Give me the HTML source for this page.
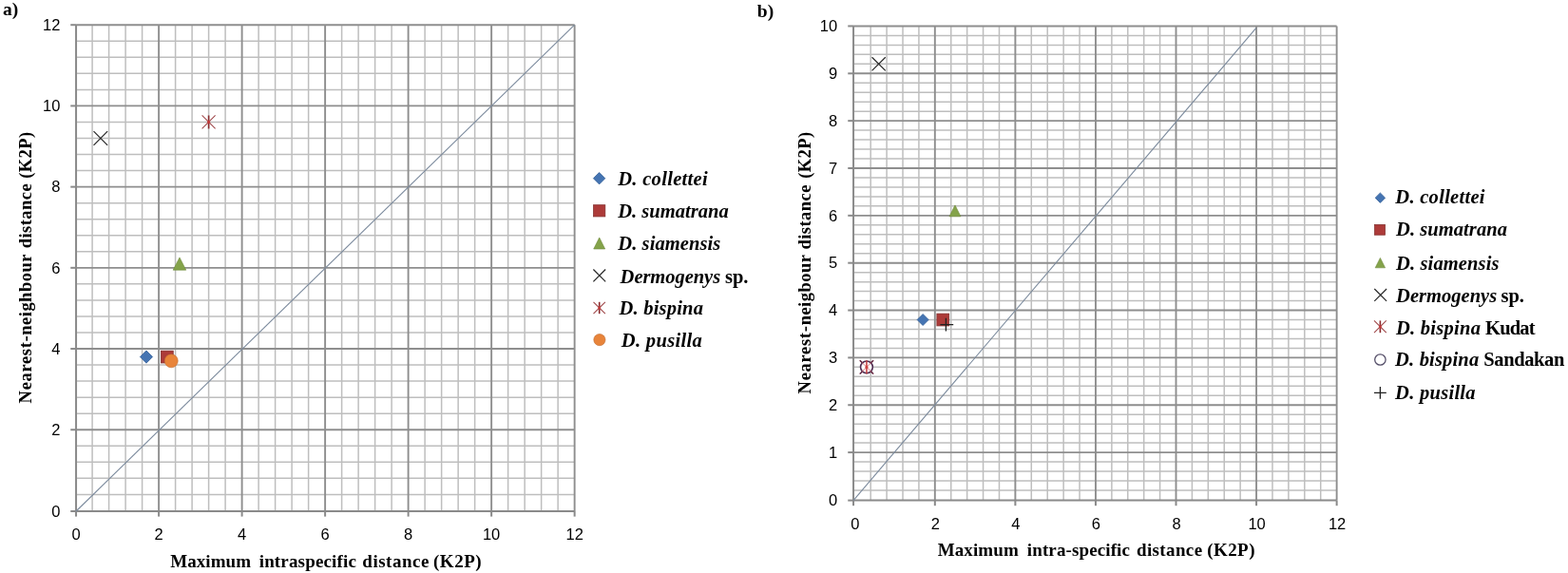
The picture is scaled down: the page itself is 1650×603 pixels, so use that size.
<!DOCTYPE html>
<html><head><meta charset="utf-8"><title>K2P distance plots</title>
<style>html,body{margin:0;padding:0;background:#fff;width:1650px;height:603px;overflow:hidden}svg{display:block}</style>
</head><body>
<svg width="1650" height="603" viewBox="0 0 1650 603">
<rect width="1650" height="603" fill="#fff"/>
<line x1="97.09" y1="538" x2="97.09" y2="26.21" stroke="#bebebe" stroke-width="1.5"/>
<line x1="114.59" y1="538" x2="114.59" y2="26.21" stroke="#bebebe" stroke-width="1.5"/>
<line x1="132.09" y1="538" x2="132.09" y2="26.21" stroke="#bebebe" stroke-width="1.5"/>
<line x1="149.6" y1="538" x2="149.6" y2="26.21" stroke="#bebebe" stroke-width="1.5"/>
<line x1="184.6" y1="538" x2="184.6" y2="26.21" stroke="#bebebe" stroke-width="1.5"/>
<line x1="202.1" y1="538" x2="202.1" y2="26.21" stroke="#bebebe" stroke-width="1.5"/>
<line x1="219.6" y1="538" x2="219.6" y2="26.21" stroke="#bebebe" stroke-width="1.5"/>
<line x1="237.1" y1="538" x2="237.1" y2="26.21" stroke="#bebebe" stroke-width="1.5"/>
<line x1="272.11" y1="538" x2="272.11" y2="26.21" stroke="#bebebe" stroke-width="1.5"/>
<line x1="289.61" y1="538" x2="289.61" y2="26.21" stroke="#bebebe" stroke-width="1.5"/>
<line x1="307.11" y1="538" x2="307.11" y2="26.21" stroke="#bebebe" stroke-width="1.5"/>
<line x1="324.61" y1="538" x2="324.61" y2="26.21" stroke="#bebebe" stroke-width="1.5"/>
<line x1="359.62" y1="538" x2="359.62" y2="26.21" stroke="#bebebe" stroke-width="1.5"/>
<line x1="377.12" y1="538" x2="377.12" y2="26.21" stroke="#bebebe" stroke-width="1.5"/>
<line x1="394.62" y1="538" x2="394.62" y2="26.21" stroke="#bebebe" stroke-width="1.5"/>
<line x1="412.12" y1="538" x2="412.12" y2="26.21" stroke="#bebebe" stroke-width="1.5"/>
<line x1="447.12" y1="538" x2="447.12" y2="26.21" stroke="#bebebe" stroke-width="1.5"/>
<line x1="464.63" y1="538" x2="464.63" y2="26.21" stroke="#bebebe" stroke-width="1.5"/>
<line x1="482.13" y1="538" x2="482.13" y2="26.21" stroke="#bebebe" stroke-width="1.5"/>
<line x1="499.63" y1="538" x2="499.63" y2="26.21" stroke="#bebebe" stroke-width="1.5"/>
<line x1="534.63" y1="538" x2="534.63" y2="26.21" stroke="#bebebe" stroke-width="1.5"/>
<line x1="552.13" y1="538" x2="552.13" y2="26.21" stroke="#bebebe" stroke-width="1.5"/>
<line x1="569.63" y1="538" x2="569.63" y2="26.21" stroke="#bebebe" stroke-width="1.5"/>
<line x1="587.14" y1="538" x2="587.14" y2="26.21" stroke="#bebebe" stroke-width="1.5"/>
<line x1="80.05" y1="520.41" x2="604.64" y2="520.41" stroke="#bebebe" stroke-width="1.5"/>
<line x1="80.05" y1="503.37" x2="604.64" y2="503.37" stroke="#bebebe" stroke-width="1.5"/>
<line x1="80.05" y1="486.33" x2="604.64" y2="486.33" stroke="#bebebe" stroke-width="1.5"/>
<line x1="80.05" y1="469.29" x2="604.64" y2="469.29" stroke="#bebebe" stroke-width="1.5"/>
<line x1="80.05" y1="435.2" x2="604.64" y2="435.2" stroke="#bebebe" stroke-width="1.5"/>
<line x1="80.05" y1="418.16" x2="604.64" y2="418.16" stroke="#bebebe" stroke-width="1.5"/>
<line x1="80.05" y1="401.12" x2="604.64" y2="401.12" stroke="#bebebe" stroke-width="1.5"/>
<line x1="80.05" y1="384.08" x2="604.64" y2="384.08" stroke="#bebebe" stroke-width="1.5"/>
<line x1="80.05" y1="350" x2="604.64" y2="350" stroke="#bebebe" stroke-width="1.5"/>
<line x1="80.05" y1="332.96" x2="604.64" y2="332.96" stroke="#bebebe" stroke-width="1.5"/>
<line x1="80.05" y1="315.91" x2="604.64" y2="315.91" stroke="#bebebe" stroke-width="1.5"/>
<line x1="80.05" y1="298.87" x2="604.64" y2="298.87" stroke="#bebebe" stroke-width="1.5"/>
<line x1="80.05" y1="264.79" x2="604.64" y2="264.79" stroke="#bebebe" stroke-width="1.5"/>
<line x1="80.05" y1="247.75" x2="604.64" y2="247.75" stroke="#bebebe" stroke-width="1.5"/>
<line x1="80.05" y1="230.71" x2="604.64" y2="230.71" stroke="#bebebe" stroke-width="1.5"/>
<line x1="80.05" y1="213.67" x2="604.64" y2="213.67" stroke="#bebebe" stroke-width="1.5"/>
<line x1="80.05" y1="179.58" x2="604.64" y2="179.58" stroke="#bebebe" stroke-width="1.5"/>
<line x1="80.05" y1="162.54" x2="604.64" y2="162.54" stroke="#bebebe" stroke-width="1.5"/>
<line x1="80.05" y1="145.5" x2="604.64" y2="145.5" stroke="#bebebe" stroke-width="1.5"/>
<line x1="80.05" y1="128.46" x2="604.64" y2="128.46" stroke="#bebebe" stroke-width="1.5"/>
<line x1="80.05" y1="94.38" x2="604.64" y2="94.38" stroke="#bebebe" stroke-width="1.5"/>
<line x1="80.05" y1="77.34" x2="604.64" y2="77.34" stroke="#bebebe" stroke-width="1.5"/>
<line x1="80.05" y1="60.3" x2="604.64" y2="60.3" stroke="#bebebe" stroke-width="1.5"/>
<line x1="80.05" y1="43.26" x2="604.64" y2="43.26" stroke="#bebebe" stroke-width="1.5"/>
<line x1="167.1" y1="538" x2="167.1" y2="26.21" stroke="#8e8e8e" stroke-width="1.9"/>
<line x1="254.61" y1="538" x2="254.61" y2="26.21" stroke="#8e8e8e" stroke-width="1.9"/>
<line x1="342.11" y1="538" x2="342.11" y2="26.21" stroke="#8e8e8e" stroke-width="1.9"/>
<line x1="429.62" y1="538" x2="429.62" y2="26.21" stroke="#8e8e8e" stroke-width="1.9"/>
<line x1="517.13" y1="538" x2="517.13" y2="26.21" stroke="#8e8e8e" stroke-width="1.9"/>
<line x1="604.64" y1="538" x2="604.64" y2="26.21" stroke="#8e8e8e" stroke-width="1.9"/>
<line x1="80.05" y1="452.24" x2="604.64" y2="452.24" stroke="#8e8e8e" stroke-width="1.9"/>
<line x1="80.05" y1="367.04" x2="604.64" y2="367.04" stroke="#8e8e8e" stroke-width="1.9"/>
<line x1="80.05" y1="281.83" x2="604.64" y2="281.83" stroke="#8e8e8e" stroke-width="1.9"/>
<line x1="80.05" y1="196.63" x2="604.64" y2="196.63" stroke="#8e8e8e" stroke-width="1.9"/>
<line x1="80.05" y1="111.42" x2="604.64" y2="111.42" stroke="#8e8e8e" stroke-width="1.9"/>
<line x1="80.05" y1="26.21" x2="604.64" y2="26.21" stroke="#8e8e8e" stroke-width="1.9"/>
<line x1="80.05" y1="538" x2="80.05" y2="26.21" stroke="#8a8a8a" stroke-width="2.0"/>
<line x1="80.05" y1="538" x2="604.64" y2="538" stroke="#8a8a8a" stroke-width="2.0"/>
<line x1="80.05" y1="538" x2="80.05" y2="543.6" stroke="#8a8a8a" stroke-width="2.0"/>
<line x1="167.1" y1="538" x2="167.1" y2="543.6" stroke="#8a8a8a" stroke-width="2.0"/>
<line x1="254.61" y1="538" x2="254.61" y2="543.6" stroke="#8a8a8a" stroke-width="2.0"/>
<line x1="342.11" y1="538" x2="342.11" y2="543.6" stroke="#8a8a8a" stroke-width="2.0"/>
<line x1="429.62" y1="538" x2="429.62" y2="543.6" stroke="#8a8a8a" stroke-width="2.0"/>
<line x1="517.13" y1="538" x2="517.13" y2="543.6" stroke="#8a8a8a" stroke-width="2.0"/>
<line x1="604.64" y1="538" x2="604.64" y2="543.6" stroke="#8a8a8a" stroke-width="2.0"/>
<line x1="74.25" y1="538" x2="80.05" y2="538" stroke="#8a8a8a" stroke-width="2.0"/>
<line x1="74.25" y1="452.24" x2="80.05" y2="452.24" stroke="#8a8a8a" stroke-width="2.0"/>
<line x1="74.25" y1="367.04" x2="80.05" y2="367.04" stroke="#8a8a8a" stroke-width="2.0"/>
<line x1="74.25" y1="281.83" x2="80.05" y2="281.83" stroke="#8a8a8a" stroke-width="2.0"/>
<line x1="74.25" y1="196.63" x2="80.05" y2="196.63" stroke="#8a8a8a" stroke-width="2.0"/>
<line x1="74.25" y1="111.42" x2="80.05" y2="111.42" stroke="#8a8a8a" stroke-width="2.0"/>
<line x1="74.25" y1="26.21" x2="80.05" y2="26.21" stroke="#8a8a8a" stroke-width="2.0"/>
<line x1="80.05" y1="538" x2="604.64" y2="26.21" stroke="#7a899c" stroke-width="1.1"/>
<text x="63.4" y="543.7" text-anchor="end" font-family="Liberation Sans, sans-serif" font-size="16.5" fill="#000">0</text>
<text x="80.2" y="568.3" text-anchor="middle" font-family="Liberation Sans, sans-serif" font-size="16.5" fill="#000">0</text>
<text x="63.4" y="457.94" text-anchor="end" font-family="Liberation Sans, sans-serif" font-size="16.5" fill="#000">2</text>
<text x="167.1" y="568.3" text-anchor="middle" font-family="Liberation Sans, sans-serif" font-size="16.5" fill="#000">2</text>
<text x="63.4" y="372.74" text-anchor="end" font-family="Liberation Sans, sans-serif" font-size="16.5" fill="#000">4</text>
<text x="254.61" y="568.3" text-anchor="middle" font-family="Liberation Sans, sans-serif" font-size="16.5" fill="#000">4</text>
<text x="63.4" y="287.53" text-anchor="end" font-family="Liberation Sans, sans-serif" font-size="16.5" fill="#000">6</text>
<text x="342.11" y="568.3" text-anchor="middle" font-family="Liberation Sans, sans-serif" font-size="16.5" fill="#000">6</text>
<text x="63.4" y="202.33" text-anchor="end" font-family="Liberation Sans, sans-serif" font-size="16.5" fill="#000">8</text>
<text x="429.62" y="568.3" text-anchor="middle" font-family="Liberation Sans, sans-serif" font-size="16.5" fill="#000">8</text>
<text x="63.4" y="117.12" text-anchor="end" font-family="Liberation Sans, sans-serif" font-size="16.5" fill="#000">10</text>
<text x="517.13" y="568.3" text-anchor="middle" font-family="Liberation Sans, sans-serif" font-size="16.5" fill="#000">10</text>
<text x="63.4" y="31.91" text-anchor="end" font-family="Liberation Sans, sans-serif" font-size="16.5" fill="#000">12</text>
<text x="604.64" y="568.3" text-anchor="middle" font-family="Liberation Sans, sans-serif" font-size="16.5" fill="#000">12</text>
<polygon points="153.97,368.96 160.57,375.56 153.97,382.16 147.37,375.56" fill="#4574b2" stroke="#345f98" stroke-width="0.8"/>
<rect x="169.45" y="369.16" width="12.8" height="12.8" fill="#ad3b39" stroke="#84302e" stroke-width="0.8"/>
<polygon points="188.97,270.97 195.78,284.17 182.17,284.17" fill="#84a34a" stroke="#6e8a3c" stroke-width="0.6"/>
<path d="M98.54 138.2L113.14 152.8M113.14 138.2L98.54 152.8" stroke="#262626" stroke-width="1.2" fill="none"/>
<path d="M212.6 121.46L226.6 135.46M226.6 121.46L212.6 135.46" stroke="#a04a4c" stroke-width="1.1" fill="none"/><path d="M219.6 121.46L219.6 135.46" stroke="#8a2a2c" stroke-width="1.6" fill="none"/><circle cx="219.6" cy="128.46" r="1.6" fill="#d03c3c" opacity="0.8"/>
<circle cx="180.22" cy="379.82" r="7" fill="#e8843a" stroke="#bf6c30" stroke-width="0.6"/>
<line x1="916.18" y1="526.6" x2="916.18" y2="27.45" stroke="#bebebe" stroke-width="1.5"/>
<line x1="933.09" y1="526.6" x2="933.09" y2="27.45" stroke="#bebebe" stroke-width="1.5"/>
<line x1="950.01" y1="526.6" x2="950.01" y2="27.45" stroke="#bebebe" stroke-width="1.5"/>
<line x1="966.92" y1="526.6" x2="966.92" y2="27.45" stroke="#bebebe" stroke-width="1.5"/>
<line x1="1000.74" y1="526.6" x2="1000.74" y2="27.45" stroke="#bebebe" stroke-width="1.5"/>
<line x1="1017.65" y1="526.6" x2="1017.65" y2="27.45" stroke="#bebebe" stroke-width="1.5"/>
<line x1="1034.57" y1="526.6" x2="1034.57" y2="27.45" stroke="#bebebe" stroke-width="1.5"/>
<line x1="1051.48" y1="526.6" x2="1051.48" y2="27.45" stroke="#bebebe" stroke-width="1.5"/>
<line x1="1085.3" y1="526.6" x2="1085.3" y2="27.45" stroke="#bebebe" stroke-width="1.5"/>
<line x1="1102.21" y1="526.6" x2="1102.21" y2="27.45" stroke="#bebebe" stroke-width="1.5"/>
<line x1="1119.13" y1="526.6" x2="1119.13" y2="27.45" stroke="#bebebe" stroke-width="1.5"/>
<line x1="1136.04" y1="526.6" x2="1136.04" y2="27.45" stroke="#bebebe" stroke-width="1.5"/>
<line x1="1169.86" y1="526.6" x2="1169.86" y2="27.45" stroke="#bebebe" stroke-width="1.5"/>
<line x1="1186.77" y1="526.6" x2="1186.77" y2="27.45" stroke="#bebebe" stroke-width="1.5"/>
<line x1="1203.69" y1="526.6" x2="1203.69" y2="27.45" stroke="#bebebe" stroke-width="1.5"/>
<line x1="1220.6" y1="526.6" x2="1220.6" y2="27.45" stroke="#bebebe" stroke-width="1.5"/>
<line x1="1254.42" y1="526.6" x2="1254.42" y2="27.45" stroke="#bebebe" stroke-width="1.5"/>
<line x1="1271.33" y1="526.6" x2="1271.33" y2="27.45" stroke="#bebebe" stroke-width="1.5"/>
<line x1="1288.25" y1="526.6" x2="1288.25" y2="27.45" stroke="#bebebe" stroke-width="1.5"/>
<line x1="1305.16" y1="526.6" x2="1305.16" y2="27.45" stroke="#bebebe" stroke-width="1.5"/>
<line x1="1338.98" y1="526.6" x2="1338.98" y2="27.45" stroke="#bebebe" stroke-width="1.5"/>
<line x1="1355.89" y1="526.6" x2="1355.89" y2="27.45" stroke="#bebebe" stroke-width="1.5"/>
<line x1="1372.81" y1="526.6" x2="1372.81" y2="27.45" stroke="#bebebe" stroke-width="1.5"/>
<line x1="1389.72" y1="526.6" x2="1389.72" y2="27.45" stroke="#bebebe" stroke-width="1.5"/>
<line x1="898.05" y1="515.96" x2="1406.63" y2="515.96" stroke="#bebebe" stroke-width="1.5"/>
<line x1="898.05" y1="505.99" x2="1406.63" y2="505.99" stroke="#bebebe" stroke-width="1.5"/>
<line x1="898.05" y1="496.02" x2="1406.63" y2="496.02" stroke="#bebebe" stroke-width="1.5"/>
<line x1="898.05" y1="486.05" x2="1406.63" y2="486.05" stroke="#bebebe" stroke-width="1.5"/>
<line x1="898.05" y1="466.11" x2="1406.63" y2="466.11" stroke="#bebebe" stroke-width="1.5"/>
<line x1="898.05" y1="456.14" x2="1406.63" y2="456.14" stroke="#bebebe" stroke-width="1.5"/>
<line x1="898.05" y1="446.17" x2="1406.63" y2="446.17" stroke="#bebebe" stroke-width="1.5"/>
<line x1="898.05" y1="436.2" x2="1406.63" y2="436.2" stroke="#bebebe" stroke-width="1.5"/>
<line x1="898.05" y1="416.26" x2="1406.63" y2="416.26" stroke="#bebebe" stroke-width="1.5"/>
<line x1="898.05" y1="406.29" x2="1406.63" y2="406.29" stroke="#bebebe" stroke-width="1.5"/>
<line x1="898.05" y1="396.33" x2="1406.63" y2="396.33" stroke="#bebebe" stroke-width="1.5"/>
<line x1="898.05" y1="386.36" x2="1406.63" y2="386.36" stroke="#bebebe" stroke-width="1.5"/>
<line x1="898.05" y1="366.42" x2="1406.63" y2="366.42" stroke="#bebebe" stroke-width="1.5"/>
<line x1="898.05" y1="356.45" x2="1406.63" y2="356.45" stroke="#bebebe" stroke-width="1.5"/>
<line x1="898.05" y1="346.48" x2="1406.63" y2="346.48" stroke="#bebebe" stroke-width="1.5"/>
<line x1="898.05" y1="336.51" x2="1406.63" y2="336.51" stroke="#bebebe" stroke-width="1.5"/>
<line x1="898.05" y1="316.57" x2="1406.63" y2="316.57" stroke="#bebebe" stroke-width="1.5"/>
<line x1="898.05" y1="306.6" x2="1406.63" y2="306.6" stroke="#bebebe" stroke-width="1.5"/>
<line x1="898.05" y1="296.63" x2="1406.63" y2="296.63" stroke="#bebebe" stroke-width="1.5"/>
<line x1="898.05" y1="286.66" x2="1406.63" y2="286.66" stroke="#bebebe" stroke-width="1.5"/>
<line x1="898.05" y1="266.72" x2="1406.63" y2="266.72" stroke="#bebebe" stroke-width="1.5"/>
<line x1="898.05" y1="256.75" x2="1406.63" y2="256.75" stroke="#bebebe" stroke-width="1.5"/>
<line x1="898.05" y1="246.78" x2="1406.63" y2="246.78" stroke="#bebebe" stroke-width="1.5"/>
<line x1="898.05" y1="236.81" x2="1406.63" y2="236.81" stroke="#bebebe" stroke-width="1.5"/>
<line x1="898.05" y1="216.87" x2="1406.63" y2="216.87" stroke="#bebebe" stroke-width="1.5"/>
<line x1="898.05" y1="206.9" x2="1406.63" y2="206.9" stroke="#bebebe" stroke-width="1.5"/>
<line x1="898.05" y1="196.93" x2="1406.63" y2="196.93" stroke="#bebebe" stroke-width="1.5"/>
<line x1="898.05" y1="186.96" x2="1406.63" y2="186.96" stroke="#bebebe" stroke-width="1.5"/>
<line x1="898.05" y1="167.02" x2="1406.63" y2="167.02" stroke="#bebebe" stroke-width="1.5"/>
<line x1="898.05" y1="157.05" x2="1406.63" y2="157.05" stroke="#bebebe" stroke-width="1.5"/>
<line x1="898.05" y1="147.09" x2="1406.63" y2="147.09" stroke="#bebebe" stroke-width="1.5"/>
<line x1="898.05" y1="137.12" x2="1406.63" y2="137.12" stroke="#bebebe" stroke-width="1.5"/>
<line x1="898.05" y1="117.18" x2="1406.63" y2="117.18" stroke="#bebebe" stroke-width="1.5"/>
<line x1="898.05" y1="107.21" x2="1406.63" y2="107.21" stroke="#bebebe" stroke-width="1.5"/>
<line x1="898.05" y1="97.24" x2="1406.63" y2="97.24" stroke="#bebebe" stroke-width="1.5"/>
<line x1="898.05" y1="87.27" x2="1406.63" y2="87.27" stroke="#bebebe" stroke-width="1.5"/>
<line x1="898.05" y1="67.33" x2="1406.63" y2="67.33" stroke="#bebebe" stroke-width="1.5"/>
<line x1="898.05" y1="57.36" x2="1406.63" y2="57.36" stroke="#bebebe" stroke-width="1.5"/>
<line x1="898.05" y1="47.39" x2="1406.63" y2="47.39" stroke="#bebebe" stroke-width="1.5"/>
<line x1="898.05" y1="37.42" x2="1406.63" y2="37.42" stroke="#bebebe" stroke-width="1.5"/>
<line x1="983.83" y1="526.6" x2="983.83" y2="27.45" stroke="#8e8e8e" stroke-width="1.9"/>
<line x1="1068.39" y1="526.6" x2="1068.39" y2="27.45" stroke="#8e8e8e" stroke-width="1.9"/>
<line x1="1152.95" y1="526.6" x2="1152.95" y2="27.45" stroke="#8e8e8e" stroke-width="1.9"/>
<line x1="1237.51" y1="526.6" x2="1237.51" y2="27.45" stroke="#8e8e8e" stroke-width="1.9"/>
<line x1="1322.07" y1="526.6" x2="1322.07" y2="27.45" stroke="#8e8e8e" stroke-width="1.9"/>
<line x1="1406.63" y1="526.6" x2="1406.63" y2="27.45" stroke="#8e8e8e" stroke-width="1.9"/>
<line x1="898.05" y1="476.08" x2="1406.63" y2="476.08" stroke="#8e8e8e" stroke-width="1.9"/>
<line x1="898.05" y1="426.23" x2="1406.63" y2="426.23" stroke="#8e8e8e" stroke-width="1.9"/>
<line x1="898.05" y1="376.39" x2="1406.63" y2="376.39" stroke="#8e8e8e" stroke-width="1.9"/>
<line x1="898.05" y1="326.54" x2="1406.63" y2="326.54" stroke="#8e8e8e" stroke-width="1.9"/>
<line x1="898.05" y1="276.69" x2="1406.63" y2="276.69" stroke="#8e8e8e" stroke-width="1.9"/>
<line x1="898.05" y1="226.84" x2="1406.63" y2="226.84" stroke="#8e8e8e" stroke-width="1.9"/>
<line x1="898.05" y1="176.99" x2="1406.63" y2="176.99" stroke="#8e8e8e" stroke-width="1.9"/>
<line x1="898.05" y1="127.15" x2="1406.63" y2="127.15" stroke="#8e8e8e" stroke-width="1.9"/>
<line x1="898.05" y1="77.3" x2="1406.63" y2="77.3" stroke="#8e8e8e" stroke-width="1.9"/>
<line x1="898.05" y1="27.45" x2="1406.63" y2="27.45" stroke="#8e8e8e" stroke-width="1.9"/>
<line x1="898.05" y1="526.6" x2="898.05" y2="27.45" stroke="#8a8a8a" stroke-width="2.0"/>
<line x1="898.05" y1="526.6" x2="1406.63" y2="526.6" stroke="#8a8a8a" stroke-width="2.0"/>
<line x1="898.05" y1="526.6" x2="898.05" y2="532.2" stroke="#8a8a8a" stroke-width="2.0"/>
<line x1="983.83" y1="526.6" x2="983.83" y2="532.2" stroke="#8a8a8a" stroke-width="2.0"/>
<line x1="1068.39" y1="526.6" x2="1068.39" y2="532.2" stroke="#8a8a8a" stroke-width="2.0"/>
<line x1="1152.95" y1="526.6" x2="1152.95" y2="532.2" stroke="#8a8a8a" stroke-width="2.0"/>
<line x1="1237.51" y1="526.6" x2="1237.51" y2="532.2" stroke="#8a8a8a" stroke-width="2.0"/>
<line x1="1322.07" y1="526.6" x2="1322.07" y2="532.2" stroke="#8a8a8a" stroke-width="2.0"/>
<line x1="1406.63" y1="526.6" x2="1406.63" y2="532.2" stroke="#8a8a8a" stroke-width="2.0"/>
<line x1="892.25" y1="526.6" x2="898.05" y2="526.6" stroke="#8a8a8a" stroke-width="2.0"/>
<line x1="892.25" y1="476.08" x2="898.05" y2="476.08" stroke="#8a8a8a" stroke-width="2.0"/>
<line x1="892.25" y1="426.23" x2="898.05" y2="426.23" stroke="#8a8a8a" stroke-width="2.0"/>
<line x1="892.25" y1="376.39" x2="898.05" y2="376.39" stroke="#8a8a8a" stroke-width="2.0"/>
<line x1="892.25" y1="326.54" x2="898.05" y2="326.54" stroke="#8a8a8a" stroke-width="2.0"/>
<line x1="892.25" y1="276.69" x2="898.05" y2="276.69" stroke="#8a8a8a" stroke-width="2.0"/>
<line x1="892.25" y1="226.84" x2="898.05" y2="226.84" stroke="#8a8a8a" stroke-width="2.0"/>
<line x1="892.25" y1="176.99" x2="898.05" y2="176.99" stroke="#8a8a8a" stroke-width="2.0"/>
<line x1="892.25" y1="127.15" x2="898.05" y2="127.15" stroke="#8a8a8a" stroke-width="2.0"/>
<line x1="892.25" y1="77.3" x2="898.05" y2="77.3" stroke="#8a8a8a" stroke-width="2.0"/>
<line x1="892.25" y1="27.45" x2="898.05" y2="27.45" stroke="#8a8a8a" stroke-width="2.0"/>
<line x1="898.05" y1="526.6" x2="1321.87" y2="29.45" stroke="#7a899c" stroke-width="1.1"/>
<text x="881.2" y="532.3" text-anchor="end" font-family="Liberation Sans, sans-serif" font-size="16.5" fill="#000">0</text>
<text x="881.2" y="481.78" text-anchor="end" font-family="Liberation Sans, sans-serif" font-size="16.5" fill="#000">1</text>
<text x="881.2" y="431.93" text-anchor="end" font-family="Liberation Sans, sans-serif" font-size="16.5" fill="#000">2</text>
<text x="881.2" y="382.09" text-anchor="end" font-family="Liberation Sans, sans-serif" font-size="16.5" fill="#000">3</text>
<text x="881.2" y="332.24" text-anchor="end" font-family="Liberation Sans, sans-serif" font-size="16.5" fill="#000">4</text>
<text x="881.2" y="282.39" text-anchor="end" font-family="Liberation Sans, sans-serif" font-size="16.5" fill="#000">5</text>
<text x="881.2" y="232.54" text-anchor="end" font-family="Liberation Sans, sans-serif" font-size="16.5" fill="#000">6</text>
<text x="881.2" y="182.69" text-anchor="end" font-family="Liberation Sans, sans-serif" font-size="16.5" fill="#000">7</text>
<text x="881.2" y="132.85" text-anchor="end" font-family="Liberation Sans, sans-serif" font-size="16.5" fill="#000">8</text>
<text x="881.2" y="83" text-anchor="end" font-family="Liberation Sans, sans-serif" font-size="16.5" fill="#000">9</text>
<text x="881.2" y="33.15" text-anchor="end" font-family="Liberation Sans, sans-serif" font-size="16.5" fill="#000">10</text>
<text x="899.77" y="556.8" text-anchor="middle" font-family="Liberation Sans, sans-serif" font-size="16.5" fill="#000">0</text>
<text x="984.33" y="556.8" text-anchor="middle" font-family="Liberation Sans, sans-serif" font-size="16.5" fill="#000">2</text>
<text x="1068.89" y="556.8" text-anchor="middle" font-family="Liberation Sans, sans-serif" font-size="16.5" fill="#000">4</text>
<text x="1153.45" y="556.8" text-anchor="middle" font-family="Liberation Sans, sans-serif" font-size="16.5" fill="#000">6</text>
<text x="1238.01" y="556.8" text-anchor="middle" font-family="Liberation Sans, sans-serif" font-size="16.5" fill="#000">8</text>
<text x="1322.57" y="556.8" text-anchor="middle" font-family="Liberation Sans, sans-serif" font-size="16.5" fill="#000">10</text>
<text x="1407.13" y="556.8" text-anchor="middle" font-family="Liberation Sans, sans-serif" font-size="16.5" fill="#000">12</text>
<polygon points="971.15,330.51 977.15,336.51 971.15,342.51 965.15,336.51" fill="#4574b2" stroke="#345f98" stroke-width="0.8"/>
<rect x="985.89" y="330.11" width="12.8" height="12.8" fill="#ad3b39" stroke="#84302e" stroke-width="0.8"/>
<polygon points="1004.97,215.86 1010.97,227.86 998.97,227.86" fill="#84a34a" stroke="#6e8a3c" stroke-width="0.6"/>
<path d="M917.54 60.23L931.74 74.43M931.74 60.23L917.54 74.43" stroke="#262626" stroke-width="1.2" fill="none"/>
<circle cx="911.95" cy="386.36" r="6.4" fill="#fff" stroke="#4e2c50" stroke-width="1.6"/>
<path d="M904.85 379.26L919.05 393.46M919.05 379.26L904.85 393.46" stroke="#d9737b" stroke-width="1.0" fill="none"/><path d="M911.95 379.26L911.95 393.46" stroke="#c23a3c" stroke-width="1.5" fill="none"/><circle cx="911.95" cy="386.36" r="1.6" fill="#d03c3c" opacity="0.8"/>
<path d="M907.35 381.76L904.85 379.26" stroke="#5e2640" stroke-width="1.5"/>
<path d="M916.55 381.76L919.05 379.26" stroke="#5e2640" stroke-width="1.5"/>
<path d="M907.35 390.96L904.85 393.46" stroke="#5e2640" stroke-width="1.5"/>
<path d="M916.55 390.96L919.05 393.46" stroke="#5e2640" stroke-width="1.5"/>
<path d="M989.41 341.69L1003.21 341.69M995.41 334.79L995.41 348.59" stroke="#222222" stroke-width="1.35" fill="none"/>
<text x="179.15" y="596.6" font-family="Liberation Serif, serif" font-weight="bold" font-size="19" fill="#000" textLength="84.96" lengthAdjust="spacing">Maximum</text>
<text x="272.69" y="596.6" font-family="Liberation Serif, serif" font-weight="bold" font-size="19" fill="#000" textLength="102.19" lengthAdjust="spacing">intraspecific</text>
<text x="381.32" y="596.6" font-family="Liberation Serif, serif" font-weight="bold" font-size="19" fill="#000" textLength="70.05" lengthAdjust="spacing">distance</text>
<text x="455.99" y="596.6" font-family="Liberation Serif, serif" font-weight="bold" font-size="19" fill="#000" textLength="50.69" lengthAdjust="spacing">(K2P)</text>
<text x="986.75" y="584.9" font-family="Liberation Serif, serif" font-weight="bold" font-size="19" fill="#000" textLength="84.96" lengthAdjust="spacing">Maximum</text>
<text x="1080.79" y="584.9" font-family="Liberation Serif, serif" font-weight="bold" font-size="19" fill="#000" textLength="108.17" lengthAdjust="spacing">intra-specific</text>
<text x="1196.03" y="584.9" font-family="Liberation Serif, serif" font-weight="bold" font-size="19" fill="#000" textLength="69.05" lengthAdjust="spacing">distance</text>
<text x="1270.19" y="584.9" font-family="Liberation Serif, serif" font-weight="bold" font-size="19" fill="#000" textLength="50.27" lengthAdjust="spacing">(K2P)</text>
<text transform="translate(33.2 424.4) rotate(-90)" font-family="Liberation Serif, serif" font-weight="bold" font-size="18.5" fill="#000" textLength="71.11" lengthAdjust="spacing">Nearest-</text>
<text transform="translate(33.2 352.67) rotate(-90)" font-family="Liberation Serif, serif" font-weight="bold" font-size="18.5" fill="#000" textLength="85.04" lengthAdjust="spacing">neighbour</text>
<text transform="translate(33.2 261.26) rotate(-90)" font-family="Liberation Serif, serif" font-weight="bold" font-size="18.5" fill="#000" textLength="67.91" lengthAdjust="spacing">distance</text>
<text transform="translate(33.2 187.8) rotate(-90)" font-family="Liberation Serif, serif" font-weight="bold" font-size="18.5" fill="#000" textLength="48.94" lengthAdjust="spacing">(K2P)</text>
<text transform="translate(852.5 414.4) rotate(-90)" font-family="Liberation Serif, serif" font-weight="bold" font-size="18.5" fill="#000" textLength="71.31" lengthAdjust="spacing">Nearest-</text>
<text transform="translate(852.5 342.37) rotate(-90)" font-family="Liberation Serif, serif" font-weight="bold" font-size="18.5" fill="#000" textLength="74.36" lengthAdjust="spacing">neigbour</text>
<text transform="translate(852.5 262.56) rotate(-90)" font-family="Liberation Serif, serif" font-weight="bold" font-size="18.5" fill="#000" textLength="68.06" lengthAdjust="spacing">distance</text>
<text transform="translate(852.5 187.8) rotate(-90)" font-family="Liberation Serif, serif" font-weight="bold" font-size="18.5" fill="#000" textLength="48.94" lengthAdjust="spacing">(K2P)</text>
<text x="3" y="15.7" font-family="Liberation Serif, serif" font-weight="bold" font-size="19.5" fill="#000">a)</text>
<text x="796.8" y="17.7" font-family="Liberation Serif, serif" font-weight="bold" font-size="19.5" fill="#000">b)</text>
<text x="650.22" y="194.7" font-family="Liberation Serif, serif" font-weight="bold" font-style="italic" font-size="20.5" fill="#000" textLength="94.45" lengthAdjust="spacing">D. collettei</text>
<text x="650.22" y="229" font-family="Liberation Serif, serif" font-weight="bold" font-style="italic" font-size="20.5" fill="#000" textLength="116.46" lengthAdjust="spacing">D. sumatrana</text>
<text x="650.32" y="262.9" font-family="Liberation Serif, serif" font-weight="bold" font-style="italic" font-size="20.5" fill="#000" textLength="108" lengthAdjust="spacing">D. siamensis</text>
<text x="652.62" y="297.7" font-family="Liberation Serif, serif" font-weight="bold" font-style="italic" font-size="20.5" fill="#000" textLength="105.49" lengthAdjust="spacing">Dermogenys</text>
<text x="763.08" y="297.7" font-family="Liberation Serif, serif" font-weight="bold" font-size="20.5" fill="#000" textLength="24.18" lengthAdjust="spacing">sp.</text>
<text x="651.52" y="330.8" font-family="Liberation Serif, serif" font-weight="bold" font-style="italic" font-size="20.5" fill="#000" textLength="88.45" lengthAdjust="spacing">D. bispina</text>
<text x="653.82" y="365.3" font-family="Liberation Serif, serif" font-weight="bold" font-style="italic" font-size="20.5" fill="#000" textLength="84.96" lengthAdjust="spacing">D. pusilla</text>
<text x="1468.32" y="214" font-family="Liberation Serif, serif" font-weight="bold" font-style="italic" font-size="20.5" fill="#000" textLength="94.24" lengthAdjust="spacing">D. collettei</text>
<text x="1469.12" y="248.4" font-family="Liberation Serif, serif" font-weight="bold" font-style="italic" font-size="20.5" fill="#000" textLength="116.78" lengthAdjust="spacing">D. sumatrana</text>
<text x="1469.12" y="283.8" font-family="Liberation Serif, serif" font-weight="bold" font-style="italic" font-size="20.5" fill="#000" textLength="108.35" lengthAdjust="spacing">D. siamensis</text>
<text x="1469.12" y="317.8" font-family="Liberation Serif, serif" font-weight="bold" font-style="italic" font-size="20.5" fill="#000" textLength="106.05" lengthAdjust="spacing">Dermogenys</text>
<text x="1579.58" y="317.8" font-family="Liberation Serif, serif" font-weight="bold" font-size="20.5" fill="#000" textLength="24.29" lengthAdjust="spacing">sp.</text>
<text x="1468.92" y="351.6" font-family="Liberation Serif, serif" font-weight="bold" font-style="italic" font-size="20.5" fill="#000" textLength="89.05" lengthAdjust="spacing">D. bispina</text>
<text x="1563.01" y="351.6" font-family="Liberation Serif, serif" font-weight="bold" font-size="20.5" fill="#000" textLength="52.58" lengthAdjust="spacing">Kudat</text>
<text x="1468.12" y="384.7" font-family="Liberation Serif, serif" font-weight="bold" font-style="italic" font-size="20.5" fill="#000" textLength="88.05" lengthAdjust="spacing">D. bispina</text>
<text x="1561.24" y="384.7" font-family="Liberation Serif, serif" font-weight="bold" font-size="20.5" fill="#000" textLength="85.1" lengthAdjust="spacing">Sandakan</text>
<text x="1468.12" y="419.6" font-family="Liberation Serif, serif" font-weight="bold" font-style="italic" font-size="20.5" fill="#000" textLength="84.46" lengthAdjust="spacing">D. pusilla</text>
<polygon points="630.6,181.5 636.8,187.7 630.6,193.9 624.4,187.7" fill="#4574b2" stroke="#345f98" stroke-width="0.8"/>
<rect x="624.6" y="215.7" width="12.2" height="12.2" fill="#ad3b39" stroke="#84302e" stroke-width="0.8"/>
<polygon points="630.7,250 636.7,262 624.7,262" fill="#84a34a" stroke="#6e8a3c" stroke-width="0.6"/>
<path d="M624.4 283.5L637.2 296.3M637.2 283.5L624.4 296.3" stroke="#262626" stroke-width="1.2" fill="none"/>
<path d="M624.5 317.8L636.9 330.2M636.9 317.8L624.5 330.2" stroke="#a04a4c" stroke-width="1.1" fill="none"/><path d="M630.7 317.8L630.7 330.2" stroke="#8a2a2c" stroke-width="1.6" fill="none"/><circle cx="630.7" cy="324" r="1.6" fill="#d03c3c" opacity="0.8"/>
<circle cx="630.9" cy="357.6" r="6.1" fill="#e8843a" stroke="#bf6c30" stroke-width="0.6"/>
<polygon points="1452.4,203 1457.6,208.2 1452.4,213.4 1447.2,208.2" fill="#4574b2" stroke="#345f98" stroke-width="0.8"/>
<rect x="1446.6" y="236.4" width="10.8" height="10.8" fill="#ad3b39" stroke="#84302e" stroke-width="0.8"/>
<polygon points="1452.4,271.4 1457.6,281.8 1447.2,281.8" fill="#84a34a" stroke="#6e8a3c" stroke-width="0.6"/>
<path d="M1446.3 304L1459.1 316.8M1459.1 304L1446.3 316.8" stroke="#262626" stroke-width="1.2" fill="none"/>
<path d="M1446 337.4L1458.8 350.2M1458.8 337.4L1446 350.2" stroke="#a04a4c" stroke-width="1.1" fill="none"/><path d="M1452.4 337.4L1452.4 350.2" stroke="#8a2a2c" stroke-width="1.6" fill="none"/><circle cx="1452.4" cy="343.8" r="1.6" fill="#d03c3c" opacity="0.8"/>
<circle cx="1452.4" cy="378.5" r="5.7" fill="#fff" stroke="#56506a" stroke-width="1.3"/>
<path d="M1446 413.3L1458.8 413.3M1452.4 406.9L1452.4 419.7" stroke="#222222" stroke-width="1.35" fill="none"/>
</svg>
</body></html>
